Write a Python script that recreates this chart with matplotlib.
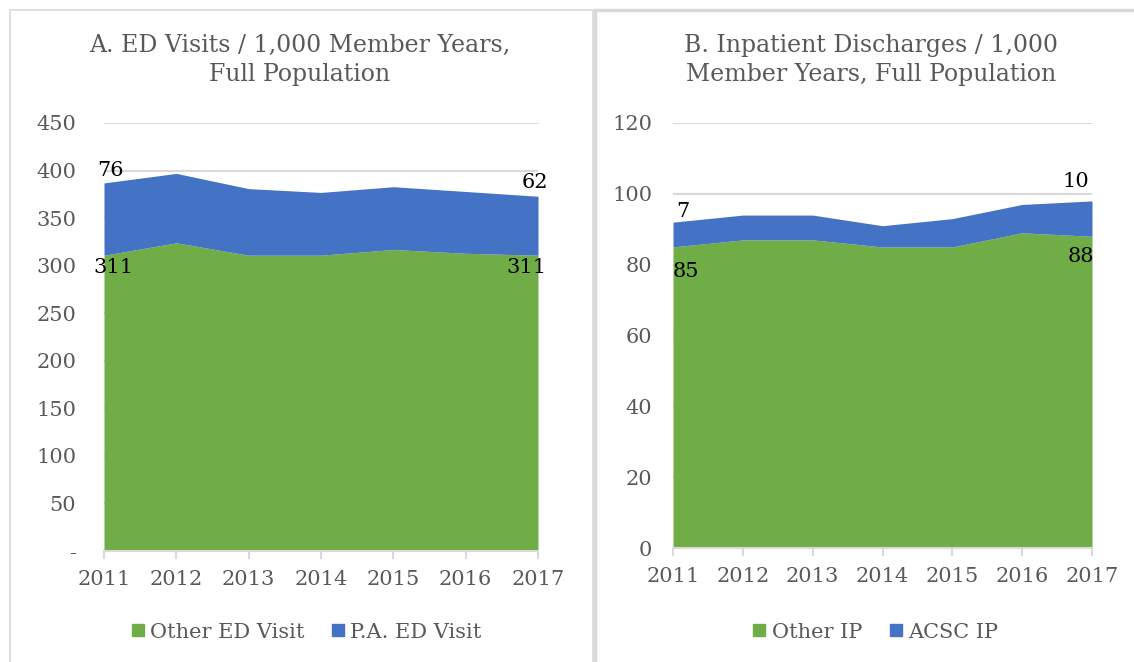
import matplotlib
matplotlib.use("Agg")
import matplotlib.pyplot as plt
from matplotlib.patches import Rectangle
from matplotlib.ticker import FuncFormatter

# data
years = [2011, 2012, 2013, 2014, 2015, 2016, 2017]
other_ed = [311, 324, 311, 311, 317, 313, 311]
pa_ed = [76, 73, 70, 66, 66, 65, 62]
other_ip = [85, 87, 87, 85, 85, 89, 88]
acsc_ip = [7, 7, 7, 6, 8, 8, 10]

green = '#70AD47'
blue = '#4472C4'
grey = '#595959'
light = '#D9D9D9'

plt.rcParams['font.family'] = ['DejaVu Serif']

fig = plt.figure(figsize=(11.34, 6.62), dpi=100)

# panel frames
fig.patches.append(Rectangle((10 / 1134, -0.01), 583 / 1134, 1 - 10 / 662 + 0.01,
                             transform=fig.transFigure, fill=False, ec=light, lw=1.2))
fig.patches.append(Rectangle((594.5 / 1134, -0.01), 600 / 1134, 1 - 10 / 662 + 0.01,
                             transform=fig.transFigure, fill=False, ec=light, lw=2.5))


def area_panel(rect, bottom, top, ymax, step, fmt, ypad, title, title_x, names, leg_x):
    ax = fig.add_axes(rect)
    x = list(range(len(years)))
    total = [b + t for b, t in zip(bottom, top)]
    ax.fill_between(x, 0, bottom, color=green, lw=0, zorder=2)
    ax.fill_between(x, bottom, total, color=blue, lw=0, zorder=2)
    ax.set_xlim(0, len(years) - 1)
    ax.set_ylim(0, ymax)
    ax.set_yticks(range(0, ymax + 1, step))
    ax.yaxis.set_major_formatter(FuncFormatter(fmt))
    ax.grid(axis='y', color=light, lw=1.5, zorder=0)
    ax.set_xticks(x)
    ax.set_xticklabels([str(y) for y in years])
    for s in ['top', 'right', 'left']:
        ax.spines[s].set_visible(False)
    ax.spines['bottom'].set_color(light)
    ax.spines['bottom'].set_linewidth(1.5)
    ax.spines['bottom'].set_zorder(3)
    ax.tick_params(axis='y', length=0, pad=ypad, labelsize=15, labelcolor=grey)
    ax.tick_params(axis='x', length=6, width=1.5, color=light, pad=8,
                   labelsize=15, labelcolor=grey)
    ax.set_axisbelow(True)
    fig.text(title_x, 1 - 60 / 662, title, ha='center', va='center',
             fontsize=17, color=grey, linespacing=1.3)
    h = [plt.Line2D([], [], marker='s', ls='', color=green, markersize=9),
         plt.Line2D([], [], marker='s', ls='', color=blue, markersize=9)]
    fig.legend(h, names, loc='center', bbox_to_anchor=(leg_x, 1 - 632 / 662),
               ncol=2, frameon=False, fontsize=15, labelcolor=grey,
               handlelength=0.7, handletextpad=0.25, columnspacing=1.25)
    return ax, total


axA, totA = area_panel([104 / 1134, 1 - 551 / 662, 434 / 1134, 428 / 662],
                       other_ed, pa_ed, 450, 50,
                       lambda v, p: '-' if v == 0 else f'{int(v)}', 20,
                       'A. ED Visits / 1,000 Member Years,\nFull Population',
                       300 / 1134, ['Other ED Visit', 'P.A. ED Visit'], 306 / 1134)
axB, totB = area_panel([673 / 1134, 1 - 548 / 662, 419 / 1134, 425 / 662],
                       other_ip, acsc_ip, 120, 20,
                       lambda v, p: f'{int(v)}', 15,
                       'B. Inpatient Discharges / 1,000\nMember Years, Full Population',
                       871 / 1134, ['Other IP', 'ACSC IP'], 875 / 1134)

# data labels at the first and last year
lab = dict(textcoords='offset points', ha='center', va='center', fontsize=15, color='black')
n = len(years) - 1
axA.annotate(str(pa_ed[0]), (0, totA[0]), xytext=(4.5, 8.6), **lab)
axA.annotate(str(other_ed[0]), (0, other_ed[0]), xytext=(7, -8.5), **lab)
axA.annotate(str(pa_ed[n]), (n, totA[n]), xytext=(-2, 10), **lab)
axA.annotate(str(other_ed[n]), (n, other_ed[n]), xytext=(-8.6, -8.6), **lab)
axB.annotate(str(acsc_ip[0]), (0, totB[0]), xytext=(7, 8), **lab)
axB.annotate(str(other_ip[0]), (0, other_ip[0]), xytext=(9.4, -18), **lab)
axB.annotate(str(acsc_ip[n]), (n, totB[n]), xytext=(-12, 13.7), **lab)
axB.annotate(str(other_ip[n]), (n, other_ip[n]), xytext=(-8, -14.4), **lab)

fig.savefig('out.png', dpi=100)
